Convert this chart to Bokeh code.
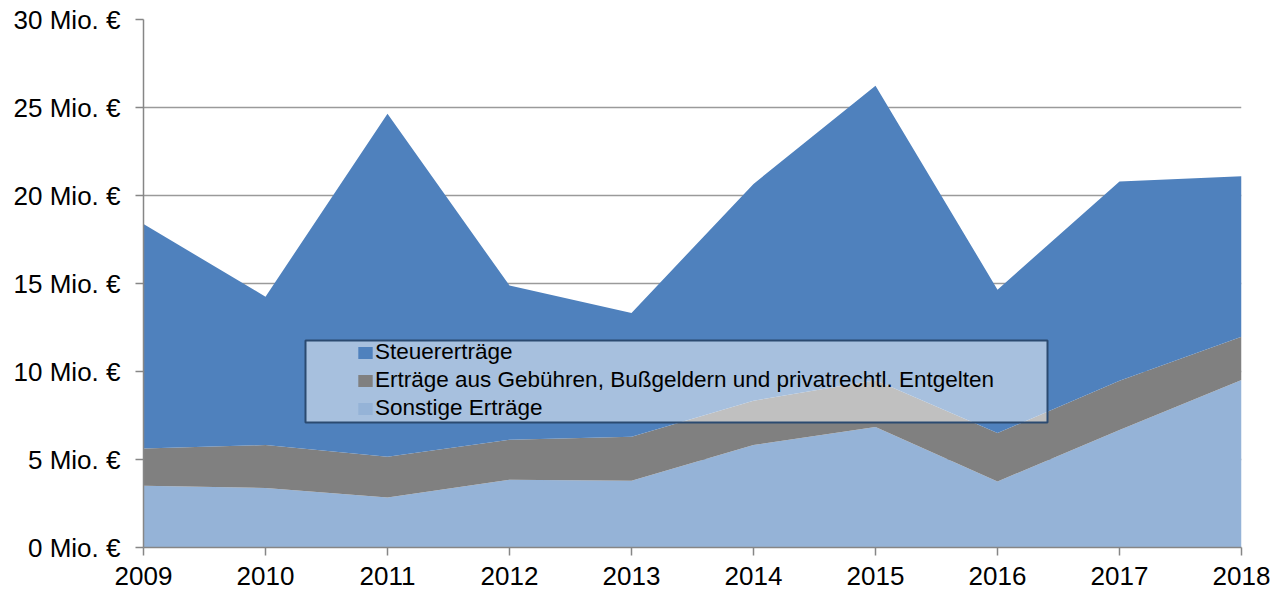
from bokeh.plotting import figure
from bokeh.models import (ColumnDataSource, FixedTicker, PrintfTickFormatter, Legend,
                          LegendItem, BoxAnnotation, Range1d)
from bokeh.embed import file_html
from bokeh.resources import INLINE

# ---- data (Mio. €) ----
years = [2009, 2010, 2011, 2012, 2013, 2014, 2015, 2016, 2017, 2018]
sonstige = [3.51, 3.38, 2.84, 3.85, 3.79, 5.82, 6.84, 3.75, 6.67, 9.52]
gebuehren = [2.12, 2.44, 2.32, 2.27, 2.50, 2.52, 2.66, 2.75, 2.81, 2.46]
steuer = [12.75, 8.43, 19.48, 8.76, 7.04, 12.32, 16.74, 8.15, 11.32, 9.12]
y_ticks = [0, 5, 10, 15, 20, 25, 30]
series_names = ["Steuererträge",
                "Erträge aus Gebühren, Bußgeldern und privatrechtl. Entgelten",
                "Sonstige Erträge"]

# ---- styling ----
C_STEUER = "#4F81BD"
C_GEB = "#808080"
C_SONST = "#95B3D7"
FONT = "Liberation Sans"
W, H = 1285, 593
BL, BR, BT, BB = 143, 44, 19, 46

source = ColumnDataSource(dict(year=years, sonstige=sonstige,
                               gebuehren=gebuehren, steuer=steuer))

p = figure(width=W, height=H, output_backend="svg", toolbar_location=None,
           x_range=Range1d(years[0], years[-1]), y_range=Range1d(y_ticks[0], y_ticks[-1]),
           min_border_left=BL, min_border_right=BR, min_border_top=BT, min_border_bottom=BB)
p.outline_line_color = None
p.background_fill_color = "white"
p.border_fill_color = "white"

rs = p.varea_stack(stackers=["sonstige", "gebuehren", "steuer"], x="year",
                   color=[C_SONST, C_GEB, C_STEUER], source=source)

# axes
p.xaxis.ticker = FixedTicker(ticks=years)
p.yaxis.ticker = FixedTicker(ticks=y_ticks)
p.yaxis.formatter = PrintfTickFormatter(format="%d Mio. €")
for ax in (p.xaxis[0], p.yaxis[0]):
    ax.axis_line_color = "#868686"
    ax.axis_line_width = 1.5
    ax.major_tick_line_color = "#868686"
    ax.major_tick_line_width = 1.5
    ax.major_tick_out = 8
    ax.major_tick_in = 0
    ax.minor_tick_line_color = None
    ax.major_label_text_font = FONT
    ax.major_label_text_font_size = "26px"
    ax.major_label_text_color = "black"
p.yaxis.major_label_standoff = 15
p.xaxis.major_label_standoff = 11

p.xgrid.grid_line_color = None
p.ygrid.grid_line_color = "#9A9A9A"
p.ygrid.grid_line_width = 1.5

# legend box (semi-transparent), positioned in plot coords
frame_w = W - BL - BR
frame_h = H - BT - BB
def px_to_x(px):
    return years[0] + (px - BL) * (years[-1] - years[0]) / frame_w
def px_to_y(py):
    return (H - BB - py) * (y_ticks[-1] - y_ticks[0]) / frame_h

box = BoxAnnotation(left=px_to_x(305), right=px_to_x(1047),
                    top=px_to_y(340), bottom=px_to_y(422),
                    fill_color="white", fill_alpha=0.5,
                    line_color="#2B4A70", line_width=2, line_alpha=1)
p.add_layout(box)

legend = Legend(items=[LegendItem(label=series_names[0], renderers=[rs[2]]),
                       LegendItem(label=series_names[1], renderers=[rs[1]]),
                       LegendItem(label=series_names[2], renderers=[rs[0]])],
                location=(356 - BL, 126), orientation="vertical")
legend.background_fill_alpha = 0
legend.border_line_alpha = 0
legend.padding = 0
legend.margin = 0
legend.spacing = 2
legend.glyph_width = 18
legend.glyph_height = 15
legend.label_standoff = 1
legend.label_height = 25
legend.label_text_font = FONT
legend.label_text_font_size = "22.5px"
legend.label_text_color = "black"
p.add_layout(legend, "center")

open("out.html", "w").write(file_html(p, INLINE))
